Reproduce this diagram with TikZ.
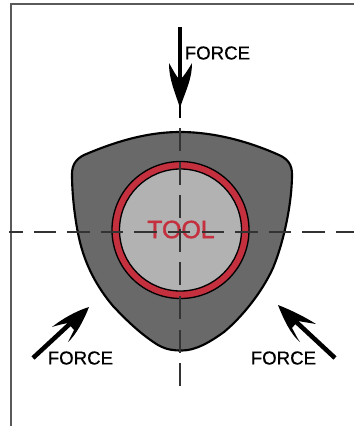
\documentclass[tikz,border=0pt]{standalone}
\usepackage{fontspec}
\setmainfont{Liberation Sans}
\newfontfamily\toolfont[FakeBold=1.6]{Liberation Sans}
\newfontfamily\forcefont[FakeBold=0.5]{Liberation Sans}
\definecolor{bodygrey}{RGB}{105,105,105}
\definecolor{toolgrey}{RGB}{178,178,178}
\definecolor{ringred}{RGB}{196,48,62}
\definecolor{framegrey}{RGB}{90,90,90}
\tikzset{
  frameline/.style={draw=framegrey,line width=1.1pt},
  centre/.style={draw=black!80,line width=1.5pt},
  forcearrow/.style={draw=black,line width=3.4pt},
  forcehead/.style={fill=black,draw=none},
  forcelabel/.style={font=\forcefont\fontsize{14}{16}\selectfont,text=black,inner sep=0pt},
}
\begin{document}
\begin{tikzpicture}[x=0.75pt,y=-0.75pt]
\useasboundingbox (0,0) rectangle (354,426);
\fill[white] (0,0) rectangle (354,426);
\coordinate (fcorner) at (11,4);
\draw[frameline] (354,4) -- (fcorner) -- (11,426);
% cam body
\draw[fill=bodygrey,draw=black,line width=1.6pt]
  (180,132) .. controls (145,132) and (112,143) .. (84,155)
  .. controls (76,159) and (72,165) .. (72,174)
  .. controls (72,195) and (75,220) .. (79,238)
  .. controls (85,265) and (97,287) .. (113,306)
  .. controls (128,322) and (142,335) .. (158,345)
  .. controls (167,350) and (174,350.5) .. (182,350.5)
  .. controls (196,350.5) and (210,342) .. (224,332)
  .. controls (243,316) and (262,292) .. (273,268)
  .. controls (283,244) and (292,205) .. (292,174)
  .. controls (292,165) and (288,159) .. (279,155)
  .. controls (250,142) and (215,132) .. (180,132) -- cycle;
% tool
\node (ring) [circle,minimum size=137pt*0.75,inner sep=0pt,fill=ringred,draw=black,line width=1pt] at (180.5,230) {};
\node (tool) [circle,minimum size=122pt*0.75,inner sep=0pt,fill=toolgrey,draw=black,line width=1pt] at (180.5,230) {};
% TOOL label
\node (toollabel) [font=\toolfont\fontsize{18.7}{20}\selectfont,text=ringred,inner sep=0pt] at (181,229.5) {TOOL};
% centre lines
\coordinate (hl) at (9,231.5);
\coordinate (hs) at (33.5,231.5);
\coordinate (hf) at (23,231.5);
\coordinate (hr) at (354,231.5);
\coordinate (vt) at (180,128);
\coordinate (vb) at (180,388);
\draw[centre] (hl) -- (hf);
\draw[centre,dash pattern=on 16.9pt off 8.3pt] (hs) -- (hr);
\draw[centre,dash pattern=on 17.2pt off 8pt] (vt) -- (vb);
% forces
\coordinate (a1s) at (180,27);
\coordinate (a1e) at (180,118);
\coordinate (a2s) at (33,358);
\coordinate (a2e) at (89,307);
\coordinate (a3s) at (335,358);
\coordinate (a3e) at (278,305);
\draw[forcearrow] (a1s) -- (180,90);
\draw[draw=black,line width=1.6pt] (180,90) -- (a1e);
\fill[forcehead] (180,108) .. controls (175,92) and (169,80) .. (169,63)
  .. controls (173,70) and (176,76) .. (180,80)
  .. controls (184,76) and (188,70) .. (192,63)
  .. controls (192,80) and (185,92) .. (180,108) -- cycle;
\draw[forcearrow] (a2s) -- (74,320);
\fill[forcehead] (a2e) .. controls (76,311) and (62,319) .. (52,327)
  .. controls (58,325) and (63,324) .. (68,323)
  -- (74,330)
  .. controls (72,334) and (70,338) .. (68,342)
  .. controls (76,335) and (84,320) .. (a2e) -- cycle;
\draw[forcearrow] (a3s) -- (292,318);
\fill[forcehead] (a3e) .. controls (291,310) and (305,317) .. (316,324)
  .. controls (310,323) and (304,322) .. (298,321)
  -- (292,328)
  .. controls (295,333) and (297,338) .. (300,342)
  .. controls (291,335) and (283,318) .. (a3e) -- cycle;
\node (f1) [forcelabel,anchor=west] at (184.5,53) {FORCE};
\node (f2) [forcelabel,anchor=west] at (47.5,358) {FORCE};
\node (f3) [forcelabel,anchor=west] at (250.5,358) {FORCE};
\end{tikzpicture}
\end{document}
